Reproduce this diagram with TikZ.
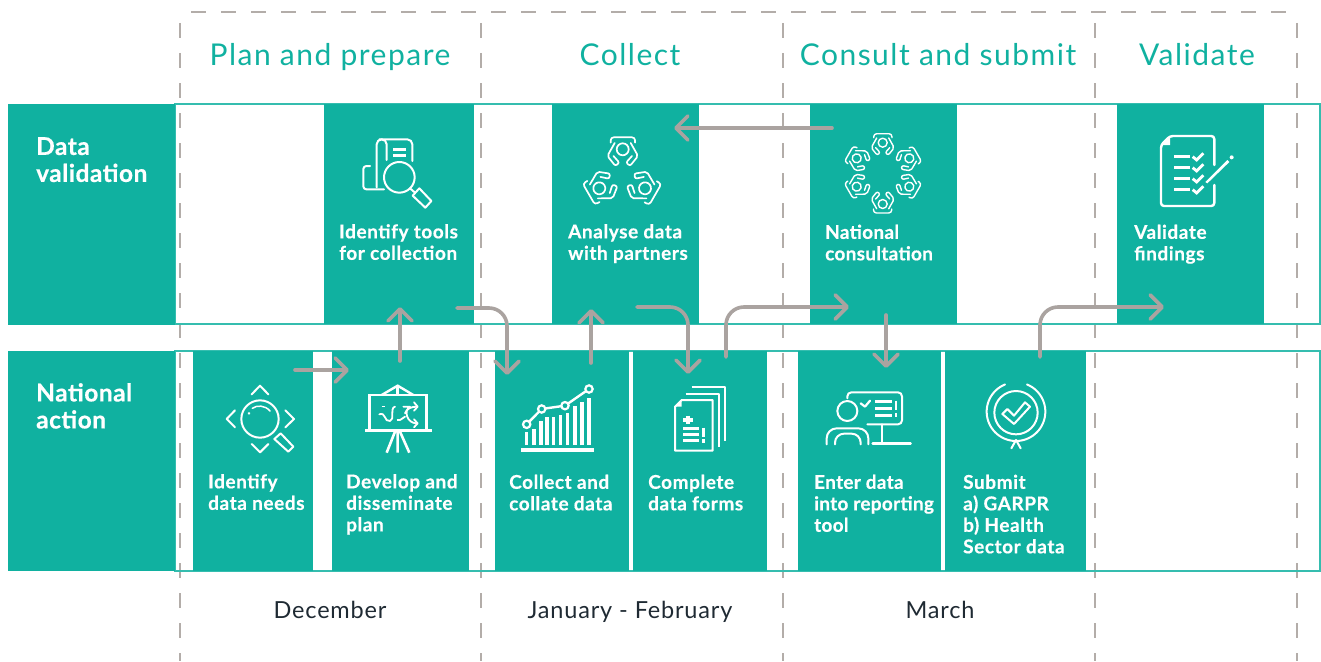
\documentclass[tikz,border=0pt]{standalone}
\usepackage{fontspec}
\setmainfont{Lato}
\usetikzlibrary{arrows.meta}
\definecolor{tealbox}{HTML}{10B1A0}
\definecolor{tealline}{HTML}{35BDAF}
\definecolor{flowgrey}{HTML}{AAA3A0}
\definecolor{dashgrey}{HTML}{B3ADA9}
\definecolor{inkdark}{HTML}{1F2A33}
\tikzset{
 cell/.style={fill=tealbox,draw=none,inner sep=0,anchor=north west},
 band/.style={draw=tealline,line width=1.2pt},
 phase/.style={draw=dashgrey,line width=1.5pt,dash pattern=on 15pt off 15pt,dash phase=19pt},
 title/.style={text=tealbox,font=\fontsize{30}{34}\selectfont\addfontfeature{LetterSpace=5},anchor=base,inner sep=0},
 month/.style={text=inkdark,font=\fontsize{23.5}{26}\selectfont\addfontfeature{LetterSpace=3.5},anchor=base,inner sep=0},
 rowlabel/.style={text=white,font=\fontsize{24.5}{27}\selectfont\bfseries\addfontfeature{LetterSpace=2,FakeBold=0.5},align=left,anchor=north west,inner sep=0},
 tasklabel/.style={text=white,font=\fontsize{19}{21.5}\selectfont\bfseries\addfontfeature{LetterSpace=3,FakeBold=0.5},align=left,anchor=north west,inner sep=0},
 tighttask/.style={tasklabel,font=\fontsize{19}{21.5}\selectfont\bfseries\addfontfeature{LetterSpace=1.5,FakeBold=0.5}},
 flow/.style={draw=flowgrey,line width=3.6pt,line cap=round,-{Straight Barb[length=12pt,width=24pt,round,line width=3.6pt]}},
 ico/.style={draw=white,line width=2pt,line cap=round,line join=round},
 icothick/.style={draw=white,line width=2.8pt,line cap=butt},
}
\newcommand{\cellbox}[5]{\node[cell,minimum width=#4-#2,minimum height=#5-#3] (#1) at (#2,#3) {};}
\newcommand{\seat}[5]{%
 \begin{scope}[shift={(#1,#2)},rotate=#3,scale=#4]
  \draw[ico,line width=#5] (0,0) circle[radius=18];
  \draw[ico,line width=#5,rounded corners=3pt] (-36,-20)--(-36,-36)--(37,-36)--(37,-20);
  \draw[ico,line width=#5,rounded corners=2pt] (-24,-19)--(-46,20)--(-22,50)--(-10,40)--(-28,20);
  \draw[ico,line width=#5,rounded corners=2pt] (24,-19)--(46,20)--(22,50)--(10,40)--(28,20);
 \end{scope}}
\begin{document}
\begin{tikzpicture}[x=1pt,y=-1pt]
\useasboundingbox (0,0) rectangle (1321,661);
% phase grid
\draw[phase] (180,12)--(1297,12);
\foreach \xx in {180,481,783,1095,1297}{\draw[phase] (\xx,12)--(\xx,661);}
% bands
\draw[band] (175,104) rectangle (1320,324);
\draw[band] (175,351) rectangle (1320,571);
% cells
\cellbox{rowA}{8}{104}{175}{325}
\cellbox{rowB}{8}{351}{175}{571}
\cellbox{tools}{324}{104}{474}{324}
\cellbox{analyse}{552}{104}{699}{324}
\cellbox{consult}{810}{104}{957}{324}
\cellbox{validate}{1117}{104}{1264}{324}
\cellbox{needs}{193}{351}{313}{571}
\cellbox{plan}{332}{351}{469}{571}
\cellbox{collect}{495}{351}{629}{571}
\cellbox{forms}{633}{351}{767}{571}
\cellbox{enter}{798}{351}{941}{571}
\cellbox{submit}{945}{351}{1086}{571}
% titles
\node[title] (t1) at (330,65) {Plan and prepare};
\node[title] (t2) at (630,65) {Collect};
\node[title] (t3) at (938,65) {Consult and submit};
\node[title] (t4) at (1197,65) {Validate};
\node[month] (m1) at (330,618) {December};
\node[month] (m2) at (630,618) {January - February};
\node[month] (m3) at (940,618) {March};
% labels
\node[rowlabel] (lA) at (36,137) {Data\\validation};
\node[rowlabel] (lB) at (36,383) {National\\action};
\node[tasklabel] (l1) at (339,224) {Identify tools\\for collection};
\node[tasklabel] (l2) at (568,224) {Analyse data\\with partners};
\node[tighttask] (l3) at (825,224.5) {National\\consultation};
\node[tasklabel] (l4) at (1134,224.5) {Validate\\findings};
\node[tasklabel] (l5) at (208,474) {Identify\\data needs};
\node[tasklabel] (l6) at (346,474) {Develop and\\disseminate\\plan};
\node[tasklabel] (l7) at (509,474.5) {Collect and\\collate data};
\node[tasklabel] (l8) at (648,474.5) {Complete\\data forms};
\node[tighttask] (l9) at (814,474.5) {Enter data\\into reporting\\tool};
\node[tasklabel] (l10) at (963,474.5) {Submit\\a) GARPR\\b) Health\\Sector data};
% icon: tools
\begin{scope}[shift={(320,100)},scale=1/3]
 \draw[ico,rounded corners=3pt] (150,198)--(130,198)--(130,268)--(192,268);
 \draw[ico,rounded corners=5pt] (170,262)--(170,118)--(277,118)--(277,183);
 \draw[ico,rounded corners=5pt] (178,118)--(200,118)--(200,180);
 \draw[icothick] (220,148)--(258,148) (220,167)--(258,167);
 \draw[ico] (238,232) circle[radius=46];
 \draw[ico] (270,265)--(285,278);
 \draw[ico] (298,265)--(334,303)--(316,323)--(278,287)--cycle;
\end{scope}
% icon: analyse
\seat{622.7}{149.3}{0}{0.333}{1.7pt}
\seat{599.3}{188.3}{120}{0.333}{1.7pt}
\seat{645}{188.3}{-120}{0.333}{1.7pt}
% icon: consultation
\seat{882.7}{142.7}{0}{0.25}{1.4pt}
\seat{909.3}{158.3}{-60}{0.25}{1.4pt}
\seat{909.3}{186.7}{-120}{0.25}{1.4pt}
\seat{882.7}{204}{180}{0.25}{1.4pt}
\seat{856.7}{186.7}{120}{0.25}{1.4pt}
\seat{856.7}{158.3}{60}{0.25}{1.4pt}
% icon: validate
\begin{scope}[shift={(800,100)},scale=1/3]
 \draw[ico,rounded corners=3pt,line width=2.4pt] (1243,195)--(1243,108)--(1110,108)--(1083,135)--(1083,318)--(1243,318)--(1243,255);
 \fill[white] (1110,108)--(1110,135)--(1083,135)--cycle;
 \foreach \yy in {170,203,236,269}{
  \draw[icothick] (1122,\yy)--(1170,\yy);
  \draw[icothick] (1178,\yy)--(1190,\yy+10)--(1210,\yy-10);
 }
 \fill[white] (1216,246)--(1282,180)--(1288,186)--(1222,250)--cycle;
 \fill[white] (1295,172) circle[radius=6];
\end{scope}
% icon: data needs
\begin{scope}[shift={(180,345)},scale=1/3]
 \draw[ico] (240,222) circle[radius=56];
 \draw[ico] (207,205) circle[radius=1];
 \draw[ico,line width=1.5pt] (217,190) .. controls (230,180) and (255,180) .. (270,198);
 \draw[ico] (215,148)--(240,122)--(265,148);
 \draw[ico] (215,297)--(240,322)--(265,297);
 \draw[ico] (165,196)--(140,222)--(165,247);
 \draw[ico] (316,196)--(342,222)--(316,247);
 \draw[ico] (302,265)--(340,305)--(325,320)--(283,282)--cycle;
\end{scope}
% icon: plan
\begin{scope}[shift={(180,345)},scale=1/3]
 \draw[icothick,line width=2.4pt] (568,256)--(568,150)--(740,150)--(740,256);
 \draw[icothick,line width=3.2pt] (555,256)--(755,256);
 \draw[icothick,line width=2.4pt] (605,150)--(653,122)--(700,150);
 \draw[icothick,line width=2.4pt] (653,122)--(653,150);
 \draw[icothick,line width=2.6pt] (653,260)--(653,323) (645,260)--(620,323) (660,260)--(688,323);
 \draw[ico,line width=1.8pt] (598,208) .. controls (618,200) and (612,232) .. (630,228) .. controls (645,225) and (628,190) .. (645,185);
 \draw[ico,line width=1.8pt] (670,185)--(690,185) (690,185) .. controls (670,195) and (680,235) .. (710,235);
 \draw[ico,line width=1.8pt] (660,225)--(675,215) (675,205) .. controls (680,190) and (695,185) .. (710,185);
 \draw[ico,line width=1.8pt] (702,172)--(713,185)--(702,197) (702,223)--(713,235)--(702,247);
 \draw[icothick,line width=1.6pt] (605,184)--(615,184) (650,225)--(660,225);
\end{scope}
% icon: collect
\begin{scope}[shift={(490,345)},scale=1/3]
 \draw[icothick,line width=3.6pt] (93,315)--(312,315);
 \foreach \xx/\tp in {110/262,132/252,153/228,171/215,191/215,212/210,233/205,255/183,276/170,297/158}{
  \draw[icothick,line width=3.6pt] (\xx,300)--(\xx,\tp);
 }
 \draw[icothick,line width=2.4pt] (110,238)--(155,192)--(225,182)--(297,132);
 \foreach \xx/\yy in {110/238,155/192,225/182,297/132}{
  \draw[draw=white,fill=tealbox,line width=2.2pt] (\xx,\yy) circle[radius=11];
 }
\end{scope}
% icon: forms
\begin{scope}[shift={(490,345)},scale=1/3]
 \draw[ico,line cap=butt,line width=2pt] (605,127)--(705,127)--(705,287);
 \draw[ico,line cap=butt,line width=2pt] (587,146)--(687,146)--(687,305);
 \draw[ico,line cap=butt,line width=2pt] (575,165)--(668,165)--(668,317)--(555,317)--(555,185)--cycle;
 \fill[white] (575,165)--(575,185)--(555,185)--cycle;
 \draw[icothick,line width=3.2pt] (594,212)--(594,238) (580,225)--(608,225);
 \draw[icothick,line width=2.6pt] (580,250)--(628,250) (580,268)--(628,268) (580,287)--(628,287);
 \draw[icothick,line width=3.2pt] (640,248)--(640,275) (640,283)--(640,293);
\end{scope}
% icon: enter
\begin{scope}[shift={(790,345)},scale=1/3]
 \draw[ico,rounded corners=4pt] (172,160)--(172,142)--(336,142)--(336,238)--(232,238);
 \draw[ico] (275,238)--(275,295);
 \draw[ico,line width=2.4pt] (248,295)--(362,295);
 \draw[ico] (172,198) circle[radius=30];
 \draw[ico,rounded corners=10pt] (110,298)--(110,250)--(235,250)--(235,298);
 \draw[ico,rounded corners=9pt] (135,298)--(135,266)--(212,266)--(212,298);
 \draw[ico,line width=2.2pt] (212,175)--(225,185)--(240,167);
 \draw[icothick] (255,170)--(305,170) (255,190)--(305,190) (255,212)--(305,212);
 \draw[icothick] (318,167)--(318,196) (318,205)--(318,215);
\end{scope}
% icon: submit
\begin{scope}[shift={(790,345)},scale=1/3]
 \draw[ico] plot[domain=-68:248,samples=60] ({678+88*cos(\x)},{200+88*sin(\x)});
 \draw[ico] (678,203) circle[radius=65];
 \draw[ico] (664,310)--(678,285)--(692,310);
 \draw[ico] (637,207)--(652,192)--(672,212)--(705,172)--(720,185)--(672,237)--cycle;
\end{scope}
% connectors
\coordinate (a1s) at (832,128); \coordinate (a1e) at (674,128);
\coordinate (a2s) at (457,308); \coordinate (a2e) at (507,375);
\coordinate (a3s) at (400,361); \coordinate (a3e) at (400,307);
\coordinate (a4s) at (591,363); \coordinate (a4e) at (591,309);
\coordinate (a5s) at (637,307); \coordinate (a5e) at (688,374);
\coordinate (a6s) at (726,357); \coordinate (a6e) at (849,307);
\coordinate (a7s) at (886,315); \coordinate (a7e) at (886,368);
\coordinate (a8s) at (1040,357); \coordinate (a8e) at (1164,307);
\coordinate (a9s) at (295,370); \coordinate (a9e) at (349,370);
\draw[flow] (a1s)--(a1e);
\draw[flow,rounded corners=18pt] (a2s)-|(a2e);
\draw[flow] (a3s)--(a3e);
\draw[flow] (a4s)--(a4e);
\draw[flow,rounded corners=18pt] (a5s)-|(a5e);
\draw[flow,rounded corners=18pt] (a6s)|-(a6e);
\draw[flow] (a7s)--(a7e);
\draw[flow,rounded corners=18pt] (a8s)|-(a8e);
\draw[flow] (a9s)--(a9e);
\end{tikzpicture}
\end{document}
